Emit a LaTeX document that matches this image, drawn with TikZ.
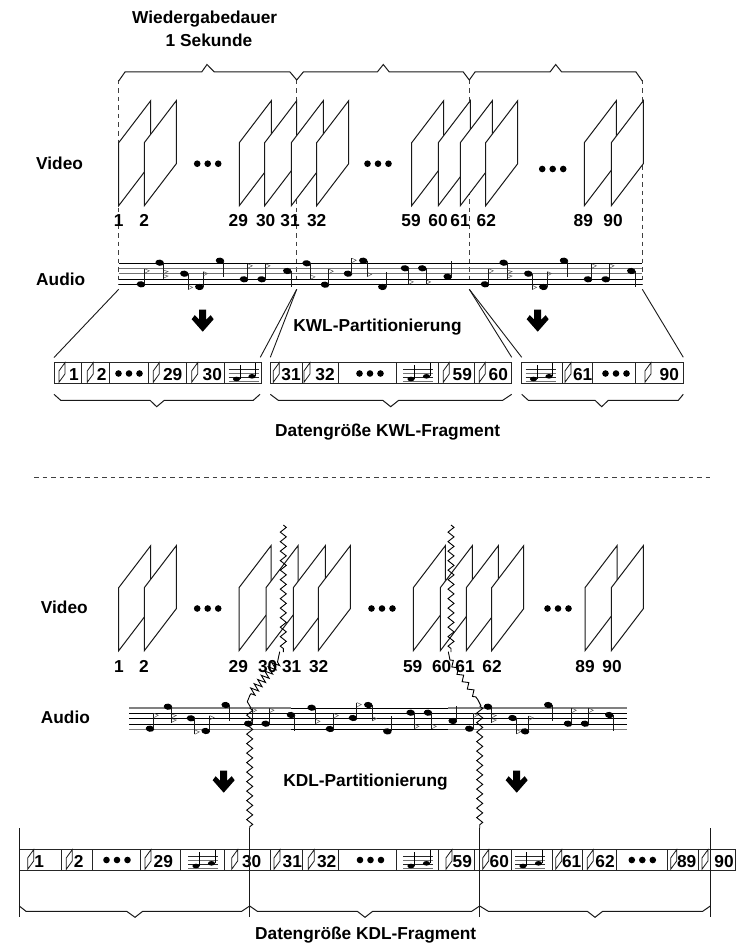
\documentclass[tikz,border=0pt]{standalone}
\usepackage{fontspec}
\setmainfont{Liberation Sans}
\usetikzlibrary{decorations.pathmorphing}
\tikzset{
  x=1pt,y=-1pt,
  line/.style={line width=1pt,black!90,line join=miter},
  frameface/.style={line width=1pt,black!90,fill=white},
  lbl/.style={font=\bfseries\fontsize{17.3}{20}\selectfont,inner sep=0pt,anchor=base},
  leftlbl/.style={font=\bfseries\fontsize{17.3}{20}\selectfont,inner sep=0pt,anchor=base west},
  dashline/.style={line width=1pt,black!75,dash pattern=on 4.5pt off 4pt},
  cell/.style={line width=1pt,black!85},
  zig/.style={line width=0.9pt,black,decorate,decoration={zigzag,segment length=9.5pt,amplitude=3pt}},
  zigA/.style={line width=0.9pt,black,decorate,decoration={zigzag,segment length=5.5pt,amplitude=4pt}},
  zigB/.style={line width=0.9pt,black,decorate,decoration={zigzag,segment length=9pt,amplitude=2.5pt}},
  iconface/.style={line width=0.8pt,black!90},
  thin/.style={line width=0.5pt,black!65},
}
\newcommand\frm[2]{\draw[frameface] (#1,#2) -- ++(0,-63) -- ++(32,-42) -- ++(0,63) -- cycle;}
\newcommand\icn[2]{\draw[iconface] (#1,#2+19.9) -- ++(0,-11.3) -- ++(6,-8.3) -- ++(0,11.3) -- cycle;}
\newcommand\threedots[2]{\foreach \d in {-10.5,0,10.5}{\fill (#1+\d,#2) circle[radius=3.3pt];}}
\newcommand\bigarrow[2]{\fill[shift={(#1,#2)}] (-3.5,-11) -- (3.5,-11) -- (3.5,-1) -- (8,-5.5) -- (11,-1.5) -- (0,11) -- (-11,-1.5) -- (-8,-5.5) -- (-3.5,-1) -- cycle;}
% x y type: 0 up, 1 up flag, 2 down, 3 down flag, 4 down two flags
\newcommand\mnote[3]{%
  \fill (#1,#2) ellipse[x radius=4.3pt,y radius=3.1pt,rotate=-8];
  \ifcase#3\relax
    \draw[line] (#1+3.8,#2) -- ++(0,-15.5);
  \or
    \draw[line] (#1+3.8,#2) -- ++(0,-15.5);
    \draw[thin] (#1+3.8,#2-15.5) -- ++(4.5,2) -- ++(-4,2.2);
  \or
    \draw[line] (#1+3.8,#2) -- ++(0,16);
  \or
    \draw[line] (#1+3.8,#2) -- ++(0,16);
    \draw[thin] (#1+3.8,#2+16) -- ++(4.5,-2.4) -- ++(-4,-1.8);
  \or
    \draw[line] (#1+3.8,#2) -- ++(0,16);
    \draw[thin] (#1+3.8,#2+15.5) -- ++(4.5,-2.2) -- ++(-4,-1.2);
    \draw[thin] (#1+3.8,#2+11) -- ++(4.5,-2.2) -- ++(-4,-1.2);
  \fi}
% small music cell: centre x, cell top y
\newcommand\mcell[2]{%
  \foreach \l/\c in {6.7/black!85,11/black!55,15.4/black!85,19.4/black!55}{\draw[line width=0.8pt,\c] (#1-15,#2+\l) -- (#1+15,#2+\l);}
  \fill (#1-7,#2+16.7) ellipse[x radius=3.6pt,y radius=2.3pt];
  \draw[line width=0.8pt] (#1-3.6,#2+16.7) -- ++(0,-14);
  \fill (#1+8.5,#2+14) ellipse[x radius=3.6pt,y radius=2.3pt];
  \draw[line width=0.8pt] (#1+12,#2+14) -- ++(0,-13.5);}
\begin{document}
\begin{tikzpicture}
\useasboundingbox (0,0) rectangle (746,947);
% ---------- upper part: dashed guides
\foreach \x/\n in {118.7/a,296.7/b,469.3/c,642.3/d}{\draw[dashline] (\x,80) -- (\x,285);}
% braces
\draw[line] (118.7,81) -- (125,72) -- (201.7,72) -- (207,64.5) -- (214.3,72) -- (290,72) -- (296.7,80) -- (303.3,72) -- (377.3,72) -- (383.3,64.5) -- (389.3,72) -- (463.3,72) -- (469.3,80) -- (475,72) -- (550,72) -- (555.7,64.5) -- (561.7,72) -- (636,72) -- (642.3,81);
% frames
\foreach \x in {118.7,144.3,239.3,264.7,291.3,316.7,411.7,438.3,460.3,485.7,584.3,611.3}{\frm{\x}{205.7}}
\threedots{207.7}{163.7}
\threedots{378}{163.7}
\threedots{552.7}{169}
\node[leftlbl] (wid) at (132,24) {Wiedergabedauer};
\node[lbl] (sek) at (209,46.7) {1 Sekunde};
\node[leftlbl] (vtop) at (36,169) {Video};
\node[leftlbl] (atop) at (36,285) {Audio};
\foreach \x/\t in {118.7/1,144.3/2,238.3/29,265.7/30,290/31,316.7/32,411/59,438/60,460/61,486.3/62,583.3/89,613/90}{\node[lbl] (tn\t) at (\x,226.7) {\t};}
% staff
\foreach \y/\c in {263.3/black,268.6/black!55,273.8/black!55,279/black,284.3/black}{\draw[line width=0.9pt,\c] (119,\y) -- (642,\y);}
\foreach \p/\q/\t in {141/284.3/1,159.7/262.7/4,184.3/273.7/3,199.3/287/1,220/260.7/2,244/279.3/1,261.7/279.3/1,287.3/271/2,
  306.7/263.3/3,325/284.7/1,348/273.7/1,363.3/260.7/3,382.3/287/0,405/268.3/3,422.3/268.3/3,447.7/276.7/0,
  485/284.3/1,503.7/262.7/4,528.3/273.7/3,543.3/287/1,564/260.7/2,588/279.3/1,605.7/279.3/1,631.3/271/2}{\mnote{\p}{\q}{\t}}
% connectors
\draw[line,line width=0.9pt] (118.7,289.3) -- (54,357.5);
\draw[line,line width=0.9pt] (296.7,289.3) -- (260.3,357.3);
\draw[line,line width=0.9pt] (296.7,289.3) -- (270.3,357.3);
\draw[line,line width=0.9pt] (469.3,289.3) -- (511.7,357.3);
\draw[line,line width=0.9pt] (469.3,289.3) -- (521.7,357.3);
\draw[line,line width=0.9pt] (642.3,289.3) -- (683.3,357.3);
\bigarrow{202.7}{320.7}
\bigarrow{537.7}{320.7}
\node[lbl] (kwl) at (377.5,331.7) {KWL-Partitionierung};
% KWL boxes
\foreach \a/\b in {54/261.3,270.3/511.7,521.7/683.3}{\draw[cell] (\a,362.3) rectangle (\b,383.7);}
\foreach \x in {81.7,109.7,148.7,186.7,224.3,302.3,338.7,396.3,438.3,474.7,562.7,592.7,635.7}{\draw[cell] (\x,362.3) -- (\x,383.7);}
\foreach \x in {59,87.3,153.3,191.7,273.3,304,443.3,479.3,565,645}{\icn{\x}{362.3}}
\foreach \x/\t in {74/1,101.7/2,172.7/29,212.3/30,291/31,325/32,462.3/59,498.3/60,582.7/61,669.3/90}{\node[lbl] (kw\t) at (\x,380) {\t};}
\threedots{129}{373.5}
\threedots{370}{373.5}
\threedots{616}{373.5}
\mcell{243.5}{362.3}
\mcell{418}{362.3}
\mcell{540.5}{362.3}
% KWL size braces
\draw[line] (54,394.3) -- (60.7,400.3) -- (150,400.3) -- (156.7,406.7) -- (164.3,400.3) -- (253.3,400.3) -- (260,394.3);
\draw[line] (270.3,394.3) -- (278.3,400.3) -- (382.7,400.3) -- (390.7,406.7) -- (398.7,400.3) -- (502.7,400.3) -- (511.7,394.3);
\draw[line] (521.7,394.3) -- (528.3,400.3) -- (595,400.3) -- (601.7,406.7) -- (608.3,400.3) -- (678.3,400.3) -- (683.3,394.3);
\node[leftlbl] (dkwl) at (275,436) {Datengröße KWL-Fragment};
% separator
\draw[dashline] (34,477.7) -- (712,477.7);
% ---------- lower part
\foreach \x in {118.7,144.3,239,266,293.3,318.3,413.3,440.3,466.3,491.7,585,611.3}{\frm{\x}{650.7}}
\threedots{207.7}{608.5}
\threedots{382}{608.5}
\threedots{558}{608.5}
\node[leftlbl] (vbot) at (40.7,613) {Video};
\node[leftlbl] (abot) at (40.7,723.3) {Audio};
\foreach \x/\t in {119/1,144/2,238.3/29,267.7/30,291.7/31,318.7/32,412.7/59,441.7/60,465/61,492/62,585/89,612/90}{\node[lbl] (bn\t) at (\x,672.3) {\t};}
% lower staff
\foreach \y in {713.3,718.6,724}{\draw[line width=0.9pt] (129.3,\y) -- (626.7,\y);}
\foreach \a/\b in {129.3/291,448/626.7}{\draw[line width=1.3pt,black!50] (\a,708) -- (\b,708);\draw[line width=1.3pt,black!50] (\a,729.3) -- (\b,729.3);}
\draw[line width=0.9pt] (291,708) -- (448,708);
\draw[line width=0.9pt] (291,729.3) -- (448,729.3);
\foreach \p/\q/\t in {150/728.7/1,168/706.7/4,191/718.3/3,205.7/731/1,225.7/705/2,248.3/723.7/1,265.7/723.7/1,291/715/2,
  311.7/707.7/3,330/729/1,353/718/1,368.3/705/3,387.3/731.4/0,410.7/712.7/3,428/712.7/3,452.7/721/0,
  469.3/728.7/1,488/706.7/4,512.6/718/3,525/731.4/1,548.3/705/2,568/723.7/1,585/723.7/1,609.3/715/2}{\mnote{\p}{\q}{\t}}
\bigarrow{223.7}{781.7}
\bigarrow{516.7}{781.7}
\node[lbl] (kdl) at (365.5,786.7) {KDL-Partitionierung};
% KDL boxes
\draw[cell] (19.3,849.3) rectangle (735.7,870.3);
\foreach \x in {61.7,92.7,140,180.7,224.3,270.7,302.3,338.7,396.3,438.3,474.7,511.3,552.3,582,616.7,667.7,698}{\draw[cell] (\x,849.3) -- (\x,870.3);}
\foreach \x in {27.7,66.3,145,231.7,274,308.3,446,482.7,555.7,587.3,670.7,702}{\icn{\x}{849.3}}
\foreach \x/\t in {39.3/1,78.7/2,163.3/29,251.7/30,292.3/31,326.7/32,462.3/59,499.3/60,571.7/61,605/62,686.7/89,724/90}{\node[lbl] (kd\t) at (\x,867) {\t};}
\threedots{117}{860}
\threedots{370.5}{860}
\threedots{642.3}{860}
\mcell{203}{849.3}
\mcell{418}{849.3}
\mcell{530}{849.3}
% verticals
\foreach \x in {19.3,249.7,479.7,710.3}{\draw[line] (\x,828.3) -- (\x,917.3);}
% KDL braces
\draw[line] (19.3,906) -- (26,911.3) -- (126.7,911.3) -- (135,917.3) -- (142.7,911.3) -- (241.7,911.3) -- (249.7,906) -- (257.3,911.3) -- (357.3,911.3) -- (365,917.3) -- (372.7,911.3) -- (471.7,911.3) -- (479.7,906) -- (488.3,911.3) -- (587.3,911.3) -- (595,917.3) -- (602.7,911.3) -- (702.7,911.3) -- (710.3,906);
\node[leftlbl] (dkdl) at (255,939.3) {Datengröße KDL-Fragment};
% zigzags
\draw[zig] (283.3,525) -- (283.3,652);
\draw[zig] (451,525) -- (451,652);
\draw[zigA] (277.5,662) -- (250,695);
\draw[line width=0.9pt] (279.7,651.7) -- (277.5,662) (250,695) -- (247.3,701.7) -- (251,708);
\draw[zigB] (450,660) -- (478,700);
\draw[line width=0.9pt] (448.3,651.7) -- (450,660) (478,700) -- (481,706);
\draw[zig] (249.7,708) -- (249.7,828.3);
\draw[zig] (479.7,706) -- (479.7,828.3);
\end{tikzpicture}
\end{document}
